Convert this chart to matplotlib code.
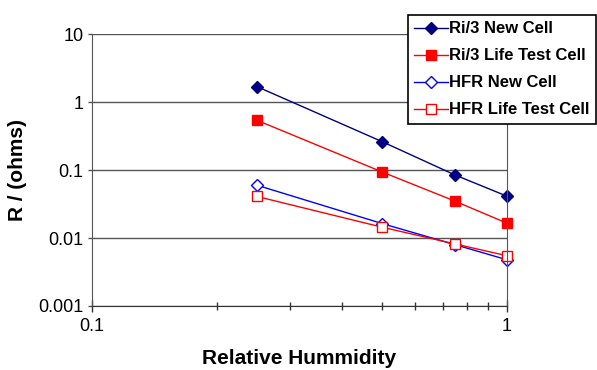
import matplotlib.pyplot as plt
from matplotlib.ticker import LogLocator, FixedLocator, NullFormatter

plt.rcParams['font.family'] = ['Liberation Sans', 'DejaVu Sans']

humidity = [0.25, 0.5, 0.75, 1.0]
ri_new = [1.70, 0.264, 0.085, 0.0415]
ri_life = [0.543, 0.0944, 0.035, 0.0166]
hfr_new = [0.060, 0.0164, 0.0080, 0.0048]
hfr_life = [0.041, 0.0145, 0.0082, 0.0055]

y_ticks = [0.001, 0.01, 0.1, 1, 10]
y_labels = ['0.001', '0.01', '0.1', '1', '10']

fig = plt.figure(figsize=(5.97, 3.70), dpi=100)
ax = fig.add_axes([0.154, 0.173, 0.695, 0.734])

ax.plot(humidity, ri_new, color='#000080', marker='D', markersize=6, lw=1,
        label='Ri/3 New Cell', clip_on=False)
ax.plot(humidity, ri_life, color='#ff0000', marker='s', markersize=7, lw=1,
        label='Ri/3 Life Test Cell', clip_on=False)
ax.plot(humidity, hfr_new, color='#0000ff', marker='D', markersize=6, lw=1,
        markerfacecolor='white', label='HFR New Cell', clip_on=False)
ax.plot(humidity, hfr_life, color='#ff0000', marker='s', markersize=7, lw=1,
        markerfacecolor='white', label='HFR Life Test Cell', clip_on=False)

ax.set_xscale('log')
ax.set_yscale('log')
ax.set_xlim(0.1, 1)
ax.set_ylim(0.001, 10)

ax.set_xticks([0.1, 1])
ax.set_xticklabels(['0.1', '1'])
ax.xaxis.set_minor_locator(LogLocator(base=10, subs=range(2, 10)))
ax.xaxis.set_minor_formatter(NullFormatter())
ax.set_yticks(y_ticks)
ax.set_yticklabels(y_labels)
ax.yaxis.set_minor_locator(FixedLocator([]))

ax.tick_params(axis='x', which='major', direction='inout', length=8, width=1,
               color='#333333', labelsize=13, pad=5)
ax.tick_params(axis='x', which='minor', direction='inout', length=6, width=1,
               color='#333333')
ax.tick_params(axis='y', which='major', direction='out', length=3, width=1,
               color='#555555', labelsize=13, pad=3)

ax.grid(axis='y', which='major', color='#555555', lw=1)
ax.set_axisbelow(True)
for side in ['left', 'bottom', 'right']:
    ax.spines[side].set_color('#555555')
ax.spines['bottom'].set_color('#333333')
ax.spines['top'].set_visible(False)

ax.set_xlabel('Relative Hummidity', fontsize=15, fontweight='bold', labelpad=10)
ax.set_ylabel('R / (ohms)', fontsize=15, fontweight='bold', labelpad=8)

leg = fig.legend(loc='upper left', bbox_to_anchor=(0.683, 0.96),
                 prop={'weight': 'bold', 'size': 12},
                 frameon=True, fancybox=False, edgecolor='black',
                 framealpha=1, handlelength=2.0, labelspacing=0.72,
                 borderpad=0.4, handletextpad=0.1, borderaxespad=0)
leg.get_frame().set_linewidth(1.2)

fig.savefig('out.png', dpi=100)
